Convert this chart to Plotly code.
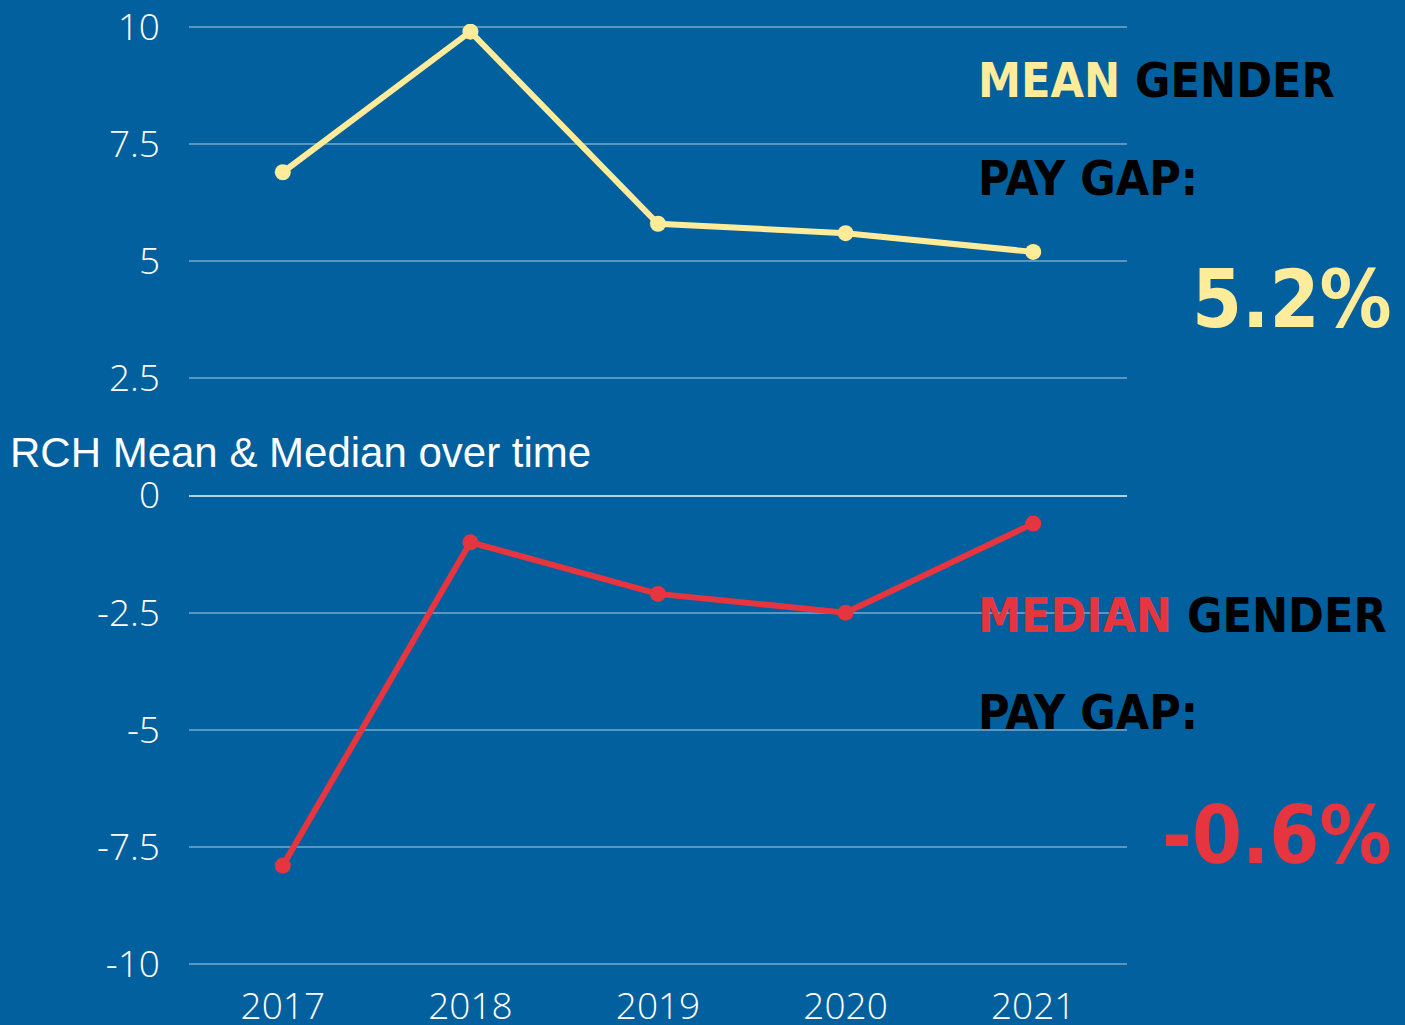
import plotly.graph_objects as go

years = ["2017", "2018", "2019", "2020", "2021"]
mean_gap = [6.9, 9.9, 5.8, 5.6, 5.2]
median_gap = [-7.9, -1.0, -2.1, -2.5, -0.6]
y_tickvals = [10, 7.5, 5, 2.5, 0, -2.5, -5, -7.5, -10]
y_ticktext = ["10", "7.5", "5", "2.5", "0", "-2.5", "-5", "-7.5", "-10"]

BG = "#01609d"
YELLOW = "#ffec9a"
RED = "#e6353f"
BIG = "DejaVu Sans Condensed, Liberation Sans Narrow, sans-serif"

fig = go.Figure()
fig.add_trace(go.Scatter(x=years, y=mean_gap, mode="lines+markers",
                         line=dict(color=YELLOW, width=6),
                         marker=dict(color=YELLOW, size=16), showlegend=False))
fig.add_trace(go.Scatter(x=years, y=median_gap, mode="lines+markers",
                         line=dict(color=RED, width=6),
                         marker=dict(color=RED, size=16), showlegend=False))

TOP, BOT = 24, 1025 - 58  # plot area pixels (range slightly padded)


def py(pix):
    return (BOT - pix) / (BOT - TOP)


def px(pix):
    return (pix - 189) / 938


ann = []
ann.append(dict(text=f"<span style='color:{YELLOW}'>MEAN</span> GENDER", x=px(976), y=py(80)))
ann.append(dict(text="PAY GAP:", x=px(976), y=py(178)))
ann.append(dict(text=f"<span style='color:{RED}'>MEDIAN</span> GENDER", x=px(976), y=py(615)))
ann.append(dict(text="PAY GAP:", x=px(976), y=py(712)))
annotations = []
for a in ann:
    annotations.append(dict(text=a["text"], x=a["x"], y=a["y"], xref="paper", yref="paper",
                            xanchor="left", yanchor="middle", showarrow=False,
                            font=dict(family=BIG, size=48, color="#000000", weight="bold")))
annotations.append(dict(text="5.2%", x=px(1394), y=py(299), xref="paper", yref="paper",
                        xanchor="right", yanchor="middle", showarrow=False,
                        font=dict(family=BIG, size=80, color=YELLOW, weight="bold")))
annotations.append(dict(text="-0.6%", x=px(1394), y=py(835), xref="paper", yref="paper",
                        xanchor="right", yanchor="middle", showarrow=False,
                        font=dict(family=BIG, size=80, color=RED, weight="bold")))

fig.update_layout(
    width=1405, height=1025,
    paper_bgcolor=BG, plot_bgcolor=BG,
    margin=dict(l=189, r=278, t=TOP, b=1025 - BOT, autoexpand=False),
    title=dict(text="RCH Mean & Median over time", x=10 / 1405, xanchor="left",
               xref="container", yref="container", y=1 - 452 / 1025, yanchor="middle",
               font=dict(family="Liberation Sans, sans-serif", size=42, color="#ffffff")),
    annotations=annotations,
    xaxis=dict(type="category", range=[-0.5, 4.5], showgrid=False, zeroline=False,
               showline=False, ticks="", ticklabelstandoff=14, automargin=False,
               ticklabeloverflow="allow",
               tickfont=dict(family="Open Sans", size=37, color="#ffffff", weight=300)),
    yaxis=dict(range=[-10.064, 10.064], tickvals=y_tickvals, ticktext=y_ticktext,
               showgrid=True, gridcolor="rgba(255,255,255,0.35)", gridwidth=1.5,
               zeroline=True, zerolinecolor="rgba(255,255,255,0.7)", zerolinewidth=2,
               showline=False, ticks="", ticklabelstandoff=28, automargin=False,
               ticklabeloverflow="allow",
               tickfont=dict(family="Open Sans", size=37, color="#ffffff", weight=300)),
)

fig.write_html("out.html", config={"displayModeBar": False},
               post_script="document.body.style.margin='0';")
